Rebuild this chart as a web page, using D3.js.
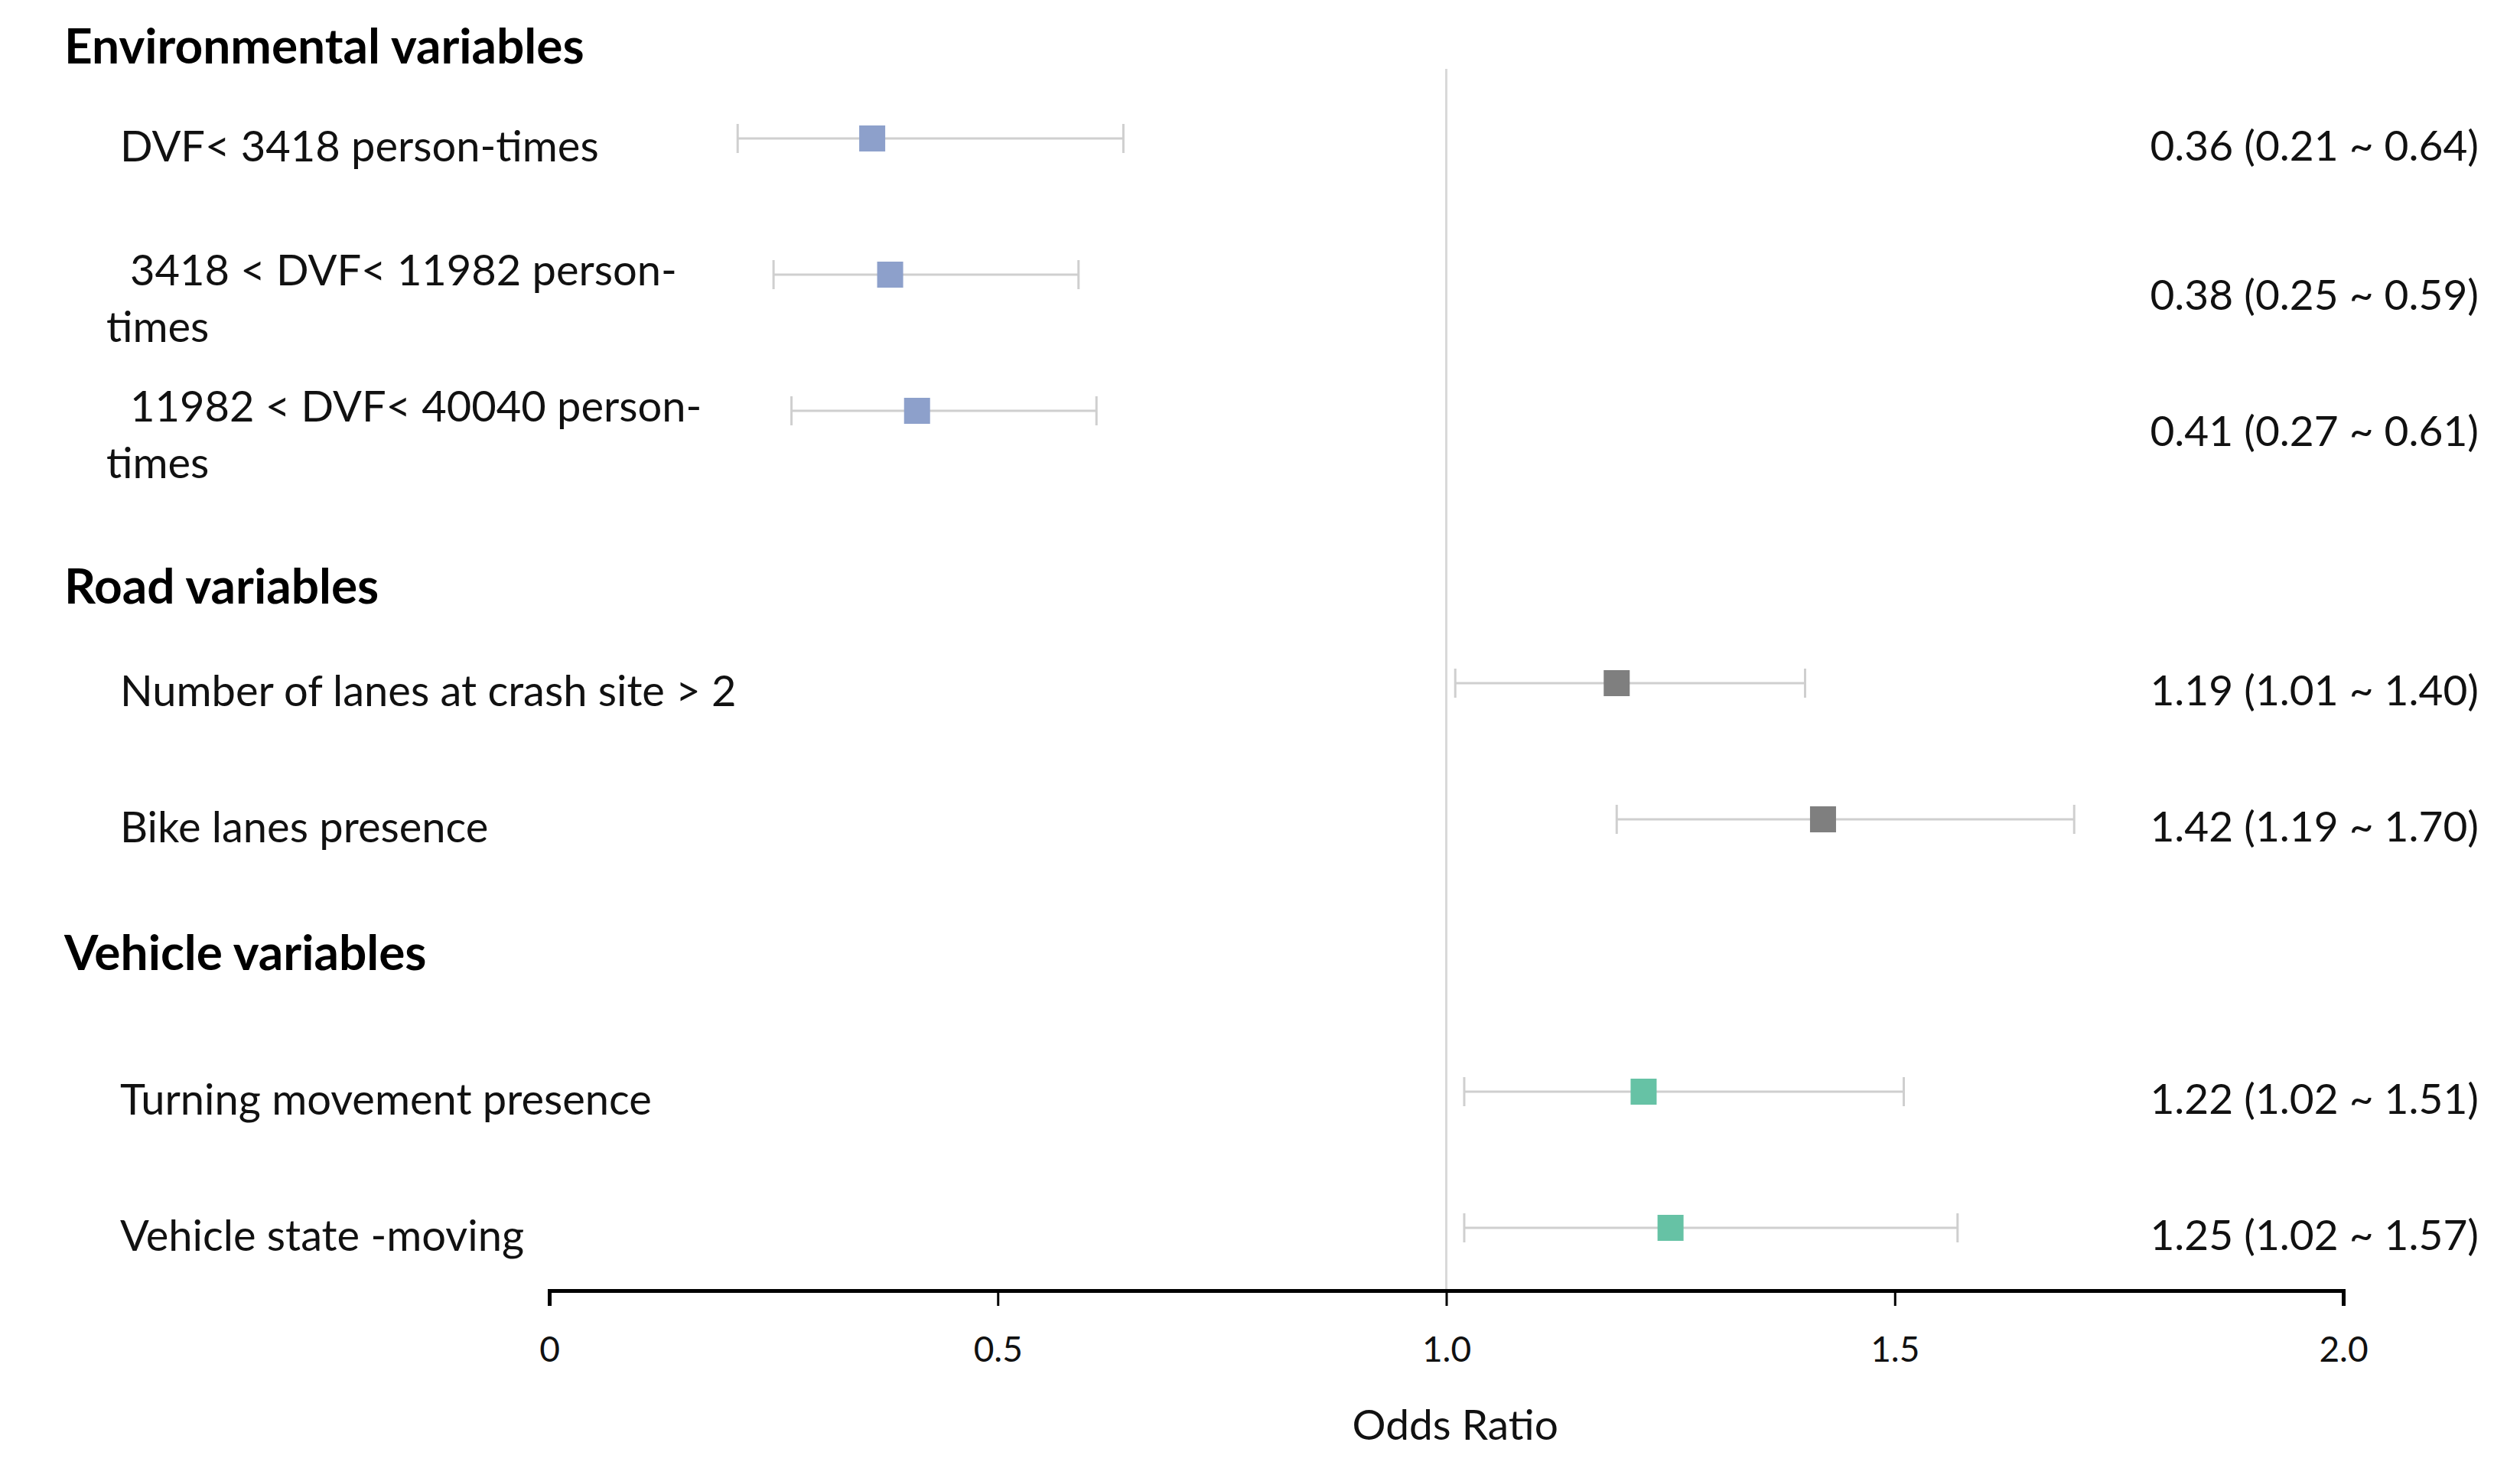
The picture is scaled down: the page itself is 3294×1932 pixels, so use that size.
<!DOCTYPE html>
<html>
<head>
<script src="https://d3js.org/d3.v7.min.js"></script>
<style>
body { margin: 0; background: #fff; }
#svg { display: block; font-family: Lato, 'Open Sans', sans-serif; }
</style>
</head>
<body>
<svg id="svg"></svg>
<script>
// data
const groups = ["Environmental variables", "Road variables", "Vehicle variables"];
const rowLabels = [
  ["DVF< 3418 person-times"],
  ["3418 < DVF< 11982 person-", "times"],
  ["11982 < DVF< 40040 person-", "times"],
  ["Number of lanes at crash site > 2"],
  ["Bike lanes presence"],
  ["Turning movement presence"],
  ["Vehicle state -moving"]
];
const rowGroup = [0, 0, 0, 1, 1, 2, 2];
const oddsRatio = [0.36, 0.38, 0.41, 1.19, 1.42, 1.22, 1.25];
const ciLow = [0.21, 0.25, 0.27, 1.01, 1.19, 1.02, 1.02];
const ciHigh = [0.64, 0.59, 0.61, 1.40, 1.70, 1.51, 1.57];
const xTicks = [0, 0.5, 1, 1.5, 2];
const xTickLabels = ["0", "0.5", "1.0", "1.5", "2.0"];
const groupColors = ["#8DA0CB", "#7F7F7F", "#66C2A5"];

const width = 3294, height = 1932;
const svg = d3.select("#svg").attr("width", width).attr("height", height);
svg.append("rect").attr("width", width).attr("height", height).attr("fill", "#fff");

const x = d3.scaleLinear().domain([0, 2]).range([718, 3063]);
// row slot = row index + group index (one empty slot between groups)
const y = d3.scaleLinear().domain([0, 8]).range([181, 1605]);
const axisY = 1687;

const rows = rowLabels.map((lab, i) => ({
  lab, g: rowGroup[i], or: oddsRatio[i], lo: ciLow[i], hi: ciHigh[i],
  slot: i + rowGroup[i]
}));

// reference line at OR = 1
svg.append("line")
  .attr("x1", x(1)).attr("x2", x(1))
  .attr("y1", 90).attr("y2", axisY)
  .attr("stroke", "#d9d9d9").attr("stroke-width", 3);

// axis
const axis = svg.append("g")
  .attr("transform", `translate(0,${axisY})`)
  .call(d3.axisBottom(x).tickValues(xTicks).tickFormat((d, i) => xTickLabels[i]).tickSize(20).tickPadding(40));
axis.select(".domain").attr("stroke", "#000").attr("stroke-width", 5);
axis.selectAll(".tick line").attr("stroke", "#000").attr("stroke-width", 3);
axis.selectAll(".tick text").attr("font-size", 46).attr("font-family", "Lato, sans-serif").attr("fill", "#111");

svg.append("text")
  .attr("x", x(1.01)).attr("y", 1861)
  .attr("text-anchor", "middle").attr("dominant-baseline", "central")
  .attr("font-size", 55).attr("fill", "#111")
  .text("Odds Ratio");

// group headers
const headerOffset = [0.69, 0.72, 1.03];
groups.forEach((name, g) => {
  const first = rows.find(r => r.g === g).slot;
  svg.append("text")
    .attr("x", 84).attr("y", y(first - headerOffset[g]))
    .attr("dominant-baseline", "central")
    .attr("font-size", 64).attr("font-weight", "bold").attr("fill", "#000")
    .text(name);
});

// row labels
const fs = 56;
rows.forEach(r => {
  const cy = y(r.slot);
  if (r.lab.length === 1) {
    svg.append("text")
      .attr("x", 157).attr("y", cy + 8)
      .attr("dominant-baseline", "central")
      .attr("font-size", fs).attr("fill", "#111")
      .text(r.lab[0]);
  } else {
    svg.append("text")
      .attr("x", 170).attr("y", cy - 8)
      .attr("dominant-baseline", "central")
      .attr("font-size", fs).attr("fill", "#111")
      .text(r.lab[0]);
    svg.append("text")
      .attr("x", 139).attr("y", cy + 66)
      .attr("dominant-baseline", "central")
      .attr("font-size", fs).attr("fill", "#111")
      .text(r.lab[1]);
  }
  svg.append("text")
    .attr("x", 3240).attr("y", cy + (r.lab.length === 1 ? 8 : 25))
    .attr("text-anchor", "end").attr("dominant-baseline", "central")
    .attr("font-size", 55).attr("fill", "#111")
    .text(`${r.or.toFixed(2)} (${r.lo.toFixed(2)} ~ ${r.hi.toFixed(2)})`);
});

// CI whiskers
const ci = svg.append("g").selectAll("g").data(rows).join("g");
ci.append("line")
  .attr("x1", d => x(d.lo)).attr("x2", d => x(d.hi))
  .attr("y1", d => y(d.slot)).attr("y2", d => y(d.slot))
  .attr("stroke", "#cfcfcf").attr("stroke-width", 3);
ci.append("line")
  .attr("x1", d => x(d.lo)).attr("x2", d => x(d.lo))
  .attr("y1", d => y(d.slot) - 19).attr("y2", d => y(d.slot) + 19)
  .attr("stroke", "#cfcfcf").attr("stroke-width", 3);
ci.append("line")
  .attr("x1", d => x(d.hi)).attr("x2", d => x(d.hi))
  .attr("y1", d => y(d.slot) - 19).attr("y2", d => y(d.slot) + 19)
  .attr("stroke", "#cfcfcf").attr("stroke-width", 3);

// point estimates
const sq = 34;
svg.append("g").selectAll("rect").data(rows).join("rect")
  .attr("x", d => x(d.or) - sq / 2).attr("y", d => y(d.slot) - sq / 2)
  .attr("width", sq).attr("height", sq)
  .attr("fill", d => groupColors[d.g]);
</script>
</body>
</html>
